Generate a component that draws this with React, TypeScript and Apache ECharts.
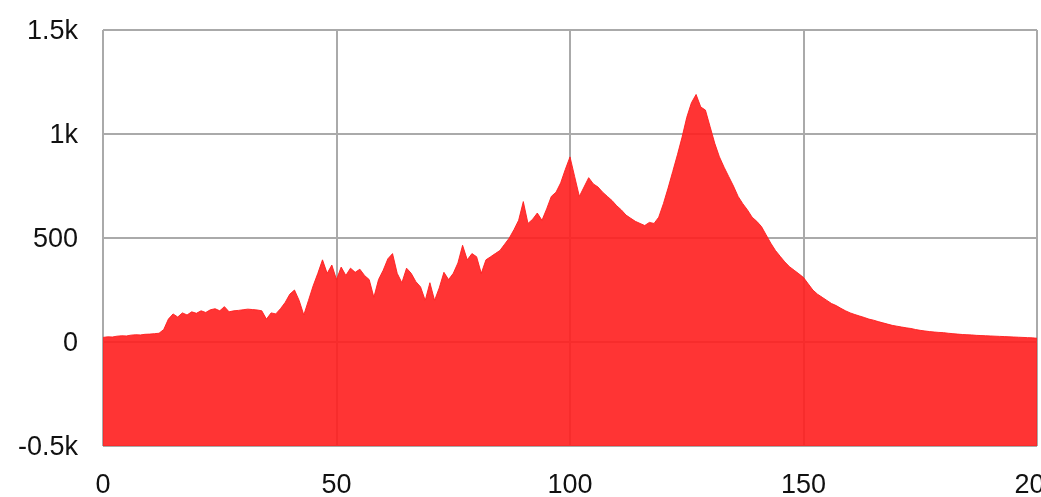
import React, { useEffect, useRef } from "react";
import * as echarts from "echarts";

const xValues: number[] = Array.from({ length: 201 }, (_, i) => i);

const seriesValues: number[] = [
  22, 25, 24, 28, 30, 29, 33, 35, 34, 37,
  38, 40, 42, 60, 110, 135, 120, 140, 130, 145,
  138, 150, 142, 155, 160, 150, 170, 145, 150, 152,
  155, 158, 156, 154, 150, 110, 140, 135, 160, 190,
  230, 250, 200, 130, 200, 270, 330, 395, 330, 370,
  300, 360, 320, 355, 335, 350, 320, 300, 215, 300,
  345, 400, 425, 330, 285, 355, 330, 290, 265, 200,
  285, 200, 260, 335, 300, 330, 380, 465, 395, 425,
  410, 330, 395, 410, 425, 440, 470, 500, 540, 585,
  675, 570, 590, 620, 585, 640, 700, 720, 765, 830,
  890, 795, 700, 745, 790, 760, 745, 720, 700, 680,
  655, 635, 610, 595, 580, 570, 560, 575, 570, 600,
  665, 740, 820, 900, 985, 1080, 1150, 1190, 1130, 1115,
  1035, 955, 890, 840, 795, 750, 700, 665, 635, 600,
  580, 555, 515, 475, 440, 412, 385, 362, 345, 328,
  310, 280, 250, 230, 215, 200, 185, 175, 162, 150,
  140, 132, 125, 118, 110, 105, 98, 92, 86, 80,
  76, 72, 68, 65, 60, 56, 53, 50, 48, 46,
  45, 42, 40, 38, 36, 35, 34, 32, 31, 30,
  29, 28, 27, 26, 25, 24, 23, 22, 21, 20,
  18,
];

const yTickLabels: Record<number, string> = {
  "-500": "-0.5k",
  "0": "0",
  "500": "500",
  "1000": "1k",
  "1500": "1.5k",
};

export default function App() {
  const ref = useRef<HTMLDivElement>(null);
  useEffect(() => {
    if (!ref.current) return;
    const chart = echarts.init(ref.current, null, { renderer: "svg" });
    const font = "Liberation Sans, Arial, Helvetica, sans-serif";
    chart.setOption({
      animation: false,
      grid: {
        left: 103,
        right: 4,
        top: 30,
        bottom: 51,
        containLabel: false,
        outerBoundsMode: "none",
      },
      xAxis: {
        type: "value",
        min: 0,
        max: 200,
        interval: 50,
        axisLine: { show: false },
        axisTick: { show: false },
        splitLine: { show: true, lineStyle: { color: "#aaaaaa", width: 2 } },
        axisLabel: {
          color: "#111",
          fontSize: 27,
          fontFamily: font,
          margin: 24,
          showMaxLabel: true,
          showMinLabel: true,
          hideOverlap: false,
        },
      },
      yAxis: {
        type: "value",
        min: -500,
        max: 1500,
        interval: 500,
        axisLine: { show: false },
        axisTick: { show: false },
        splitLine: { show: true, lineStyle: { color: "#aaaaaa", width: 2 } },
        axisLabel: {
          color: "#111",
          fontSize: 27,
          fontFamily: font,
          margin: 25,
          formatter: (v: number) => yTickLabels[v] ?? String(v),
        },
      },
      series: [
        {
          type: "line",
          data: xValues.map((x, i) => [x, seriesValues[i]]),
          showSymbol: false,
          symbol: "none",
          lineStyle: { color: "rgba(255,30,30,0.9)", width: 1 },
          areaStyle: { color: "rgba(255,30,30,0.9)", origin: "start", opacity: 1 },
          z: 2,
        },
      ],
    });
    return () => chart.dispose();
  }, []);
  return (
    <div
      ref={ref}
      style={{ position: "fixed", left: 0, top: 0, width: 1041, height: 497 }}
    />
  );
}
